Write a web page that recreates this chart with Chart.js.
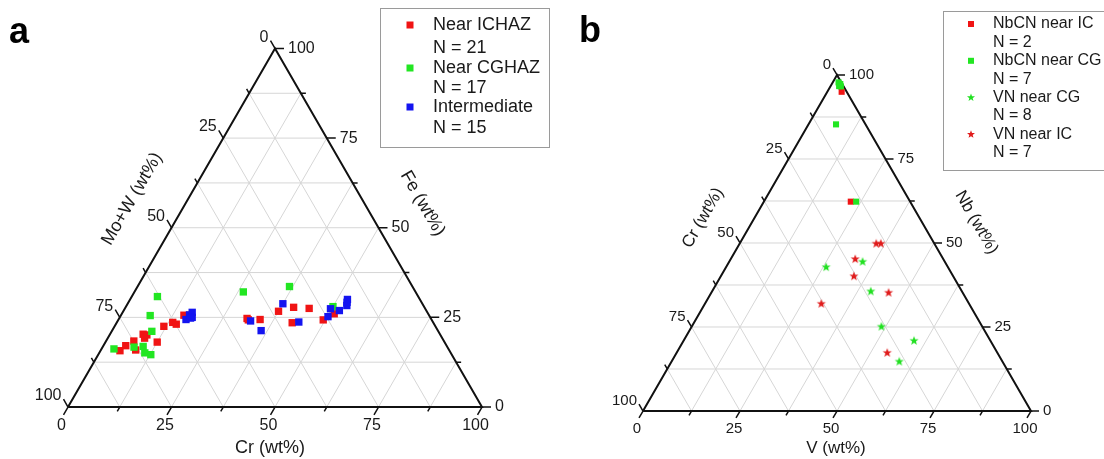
<!DOCTYPE html>
<html><head><meta charset="utf-8">
<script src="https://cdn.jsdelivr.net/npm/chart.js@4.4.0/dist/chart.umd.min.js"></script>
<style>
html,body{margin:0;padding:0;background:#fff;}
#wrap{position:relative;width:1104px;height:459px;overflow:hidden;background:#fff;}
#chartA{position:absolute;left:0;top:0;}
#chartB{position:absolute;left:560px;top:0;}
</style></head><body>
<div id="wrap">
<canvas id="chartA" width="560" height="459"></canvas>
<canvas id="chartB" width="544" height="459"></canvas>
</div>
<script>
// ---------------- tick / grid values ----------------
const majorTicks = [0, 25, 50, 75, 100];
const minorTicks = [12.5, 37.5, 62.5, 87.5];
const gridLevels = [12.5, 25, 37.5, 50, 62.5, 75, 87.5];
const tickLabels = ['0', '25', '50', '75', '100'];

// ---------------- Panel a : Cr (bottom axis), Fe (right axis), Mo+W (left axis) ----------------
const ichazCr = [4.7, 5.4, 6.7, 8.4, 8.0, 8.9, 9.0, 12.5, 11.9, 13.5, 14.6, 15.2, 30.9, 34.2, 37.5, 40.6, 44.5, 42.4, 49.5, 51.3, 31.4];
const ichazFe = [15.7, 17.1, 18.4, 15.9, 20.3, 19.2, 20.1, 18.1, 22.5, 23.6, 23.1, 25.6, 24.7, 24.4, 26.7, 27.8, 27.5, 23.5, 24.3, 26.0, 24.3];
const cghazCr = [6.2, 7.1, 9.7, 3.0, 7.6, 9.7, 11.0, 12.7, 26.3, 36.7, 50.0];
const cghazFe = [30.8, 25.5, 21.1, 16.2, 16.7, 16.9, 15.1, 14.6, 32.1, 33.6, 28.0];
const interCr = [16.3, 16.5, 16.8, 17.5, 17.2, 37.5, 32.1, 36.0, 43.9, 50.2, 49.7, 52.1, 53.2, 52.5, 52.8];
const interFe = [24.4, 25.7, 26.4, 25.0, 24.8, 28.8, 24.0, 21.3, 23.7, 25.2, 27.4, 26.9, 28.3, 30.0, 29.2];

// ---------------- Panel b : V (bottom axis), Nb (right axis), Cr (left axis) ----------------
const nbcnIcV = [3.7, 22.4];
const nbcnIcNb = [95.0, 62.3];
const nbcnCgV = [1.5, 2.2, 2.2, 2.7, 2.1, 7.1, 23.8];
const nbcnCgNb = [97.8, 97.3, 96.7, 96.6, 97.2, 85.3, 62.3];
const vnCgV = [34.4, 25.8, 40.9, 48.9, 59.4, 58.7];
const vnCgNb = [44.4, 42.8, 35.6, 25.1, 20.9, 14.7];
const vnIcV = [35.2, 36.4, 32.1, 34.3, 45.7, 30.0, 54.3];
const vnIcNb = [49.8, 49.8, 45.2, 40.1, 35.2, 31.9, 17.3];

// ---------------- helpers ----------------
const SQ = Math.sqrt(3) / 2;
const FONT = '"Liberation Sans", Arial, Helvetica, sans-serif';
// bottom-axis component b, top component t  -> cartesian
function T(b, t) { return { x: b / 100 + t / 200, y: t / 100 * SQ }; }
const GAP = { x: null, y: null };
function pts(bArr, tArr) { return bArr.map((b, i) => T(b, tArr[i])); }

function starCanvas(color, rOut, rIn) {
  const c = document.createElement('canvas');
  const s = Math.ceil(rOut * 2 + 2);
  c.width = s; c.height = s;
  const g = c.getContext('2d');
  g.beginPath();
  for (let i = 0; i < 10; i++) {
    const r = i % 2 === 0 ? rOut : rIn;
    const a = -Math.PI / 2 + i * Math.PI / 5;
    const px = s / 2 + r * Math.cos(a), py = s / 2 + r * Math.sin(a);
    if (i === 0) g.moveTo(px, py); else g.lineTo(px, py);
  }
  g.closePath();
  g.fillStyle = color; g.fill();
  return c;
}
function drawStar(ctx, cx, cy, rOut, rIn, color) {
  ctx.beginPath();
  for (let i = 0; i < 10; i++) {
    const r = i % 2 === 0 ? rOut : rIn;
    const a = -Math.PI / 2 + i * Math.PI / 5;
    const px = cx + r * Math.cos(a), py = cy + r * Math.sin(a);
    if (i === 0) ctx.moveTo(px, py); else ctx.lineTo(px, py);
  }
  ctx.closePath(); ctx.fillStyle = color; ctx.fill();
}

function buildPanel(canvasId, geo, series, txt) {
  const W = geo.w, H = geo.h, ppu = geo.ppu;
  const xmin = -geo.ox / ppu, xmax = (W - geo.ox) / ppu;
  const ymax = geo.oy / ppu, ymin = -(H - geo.oy) / ppu;
  const majL = geo.major / ppu, minL = geo.minor / ppu;

  const grid = [];
  gridLevels.forEach(g => {
    grid.push(T(0, g), T(100 - g, g), GAP);
    grid.push(T(g, 0), T(g, 100 - g), GAP);
    grid.push(T(100 - g, 0), T(0, 100 - g), GAP);
  });
  const ticks = [];
  const dirB = { x: -0.5, y: -SQ }, dirR = { x: 1, y: 0 }, dirL = { x: -0.5, y: SQ };
  const addTick = (p, d, L) => { ticks.push(p, { x: p.x + d.x * L, y: p.y + d.y * L }, GAP); };
  majorTicks.concat(minorTicks).forEach(v => {
    const L = majorTicks.includes(v) ? majL : minL;
    addTick(T(v, 0), dirB, L);
    addTick(T(100 - v, v), dirR, L);
    addTick(T(0, 100 - v), dirL, L);
  });

  const datasets = [
    { data: grid, showLine: true, borderColor: '#d6d6d6', borderWidth: 1, pointRadius: 0, order: 50, spanGaps: false },
    { data: [T(0, 0), T(100, 0), T(0, 100), T(0, 0)], showLine: true, borderColor: '#111', borderWidth: 2, pointRadius: 0, order: 40, borderJoinStyle: 'miter' },
    { data: ticks, showLine: true, borderColor: '#111', borderWidth: 1.5, pointRadius: 0, order: 41, spanGaps: false }
  ];
  series.forEach(s => {
    datasets.push({
      data: pts(s.b, s.t), showLine: false, pointStyle: s.style, pointRadius: s.radius,
      backgroundColor: s.color, borderColor: s.color, borderWidth: 0, order: s.order
    });
  });

  const textPlugin = {
    id: 'tern_' + canvasId,
    afterDraw(chart) {
      const ctx = chart.ctx, xs = chart.scales.x, ys = chart.scales.y;
      const P = p => ({ x: xs.getPixelForValue(p.x), y: ys.getPixelForValue(p.y) });
      const M = geo.major;
      ctx.save();
      ctx.fillStyle = '#1a1a1a';
      ctx.font = txt.tickFont + 'px ' + FONT;
      majorTicks.forEach((v, i) => {
        // bottom
        let b = P(T(v, 0));
        ctx.textAlign = 'center'; ctx.textBaseline = 'top';
        ctx.fillText(tickLabels[i], b.x - 0.5 * M - 2, b.y + SQ * M + 3);
        // right
        b = P(T(100 - v, v));
        ctx.textAlign = 'left'; ctx.textBaseline = 'middle';
        ctx.fillText(tickLabels[i], b.x + M + 4, b.y);
        // left
        b = P(T(0, 100 - v));
        ctx.textAlign = 'right'; ctx.textBaseline = 'alphabetic';
        ctx.fillText(tickLabels[i], b.x - 0.5 * M - 2, b.y - SQ * M + 1);
      });
      // axis titles
      ctx.font = txt.titleFont + 'px ' + FONT;
      ctx.textAlign = 'center'; ctx.textBaseline = 'middle';
      ctx.fillText(txt.bottom, txt.bottomPos[0], txt.bottomPos[1]);
      ctx.save(); ctx.translate(txt.leftPos[0], txt.leftPos[1]); ctx.rotate(-Math.PI / 3);
      ctx.fillText(txt.left, 0, 0); ctx.restore();
      ctx.save(); ctx.translate(txt.rightPos[0], txt.rightPos[1]); ctx.rotate(Math.PI / 3);
      ctx.fillText(txt.right, 0, 0); ctx.restore();
      // panel letter
      ctx.font = 'bold ' + txt.letterFont + 'px ' + FONT;
      ctx.textAlign = 'left'; ctx.textBaseline = 'alphabetic';
      ctx.fillStyle = '#000';
      ctx.fillText(txt.letter, txt.letterPos[0], txt.letterPos[1]);
      // legend
      const lg = txt.legend;
      ctx.strokeStyle = '#9a9a9a'; ctx.lineWidth = 1;
      ctx.strokeRect(lg.box[0] + 0.5, lg.box[1] + 0.5, lg.box[2], lg.box[3]);
      ctx.font = lg.font + 'px ' + FONT;
      ctx.textAlign = 'left'; ctx.textBaseline = 'middle';
      lg.lines.forEach((ln, i) => {
        ctx.fillStyle = '#1a1a1a';
        ctx.fillText(ln, lg.textX, lg.ys[i]);
      });
      lg.marks.forEach(mk => {
        if (mk.type === 'rect') {
          ctx.fillStyle = mk.color;
          ctx.fillRect(lg.markX - mk.size / 2, mk.y - mk.size / 2, mk.size, mk.size);
        } else {
          drawStar(ctx, lg.markX, mk.y, mk.size, mk.size * 0.42, mk.color);
        }
      });
      ctx.restore();
    }
  };

  return new Chart(document.getElementById(canvasId), {
    type: 'scatter',
    data: { datasets },
    options: {
      responsive: false, animation: false, devicePixelRatio: 1, events: [],
      layout: { padding: 0, autoPadding: false },
      plugins: { legend: { display: false }, tooltip: { enabled: false } },
      scales: {
        x: { type: 'linear', min: xmin, max: xmax, display: false },
        y: { type: 'linear', min: ymin, max: ymax, display: false }
      }
    },
    plugins: [textPlugin]
  });
}

const RED = '#f01414', GREEN = '#22e622', BLUE = '#1414f0';

// Panel a
buildPanel('chartA', { w: 560, h: 459, ox: 68, oy: 407, ppu: 414, major: 9, minor: 5 }, [
  { b: interCr, t: interFe, color: BLUE, style: 'rect', radius: 5.2, order: 1 },
  { b: cghazCr, t: cghazFe, color: GREEN, style: 'rect', radius: 5.2, order: 2 },
  { b: ichazCr, t: ichazFe, color: RED, style: 'rect', radius: 5.2, order: 3 }
], {
  tickFont: 16, titleFont: 18, letterFont: 36,
  bottom: 'Cr (wt%)', bottomPos: [270, 448],
  left: 'Mo+W (wt%)', leftPos: [132, 199],
  right: 'Fe (wt%)', rightPos: [422.5, 203.5],
  letter: 'a', letterPos: [9, 43],
  legend: {
    box: [380, 8, 169, 139], font: 18, textX: 433, markX: 410,
    lines: ['Near ICHAZ', 'N = 21', 'Near CGHAZ', 'N = 17', 'Intermediate', 'N = 15'],
    ys: [25, 48, 68, 88, 107, 128],
    marks: [{ type: 'rect', color: RED, y: 25, size: 7 }, { type: 'rect', color: GREEN, y: 68, size: 7 }, { type: 'rect', color: BLUE, y: 107, size: 7 }]
  }
});

// Panel b (canvas offset 560 px)
const starG = starCanvas('#22e022', 4.8, 2.0);
const starR = starCanvas('#e01c1c', 4.8, 2.0);
buildPanel('chartB', { w: 544, h: 459, ox: 83, oy: 411, ppu: 388, major: 8, minor: 5 }, [
  { b: nbcnCgV, t: nbcnCgNb, color: GREEN, style: 'rect', radius: 4.3, order: 1 },
  { b: nbcnIcV, t: nbcnIcNb, color: RED, style: 'rect', radius: 4.3, order: 2 },
  { b: vnCgV, t: vnCgNb, color: '#22e022', style: starG, radius: 5, order: 3 },
  { b: vnIcV, t: vnIcNb, color: '#e01c1c', style: starR, radius: 5, order: 4 }
], {
  tickFont: 15, titleFont: 17, letterFont: 36,
  bottom: 'V (wt%)', bottomPos: [276, 448],
  left: 'Cr (wt%)', leftPos: [143, 218],
  right: 'Nb (wt%)', rightPos: [416.5, 222.5],
  letter: 'b', letterPos: [19, 42],
  legend: {
    box: [383, 11, 170, 159], font: 16, textX: 433, markX: 411,
    lines: ['NbCN near IC', 'N = 2', 'NbCN near CG', 'N = 7', 'VN near CG', 'N = 8', 'VN near IC', 'N = 7'],
    ys: [24, 42.4, 60.8, 79.2, 97.6, 116, 134.4, 152.8],
    marks: [{ type: 'rect', color: RED, y: 24, size: 6 }, { type: 'rect', color: GREEN, y: 60.8, size: 6 },
            { type: 'star', color: '#22e022', y: 97.6, size: 4.2 }, { type: 'star', color: '#e01c1c', y: 134.4, size: 4.2 }]
  }
});
</script>
</body></html>
